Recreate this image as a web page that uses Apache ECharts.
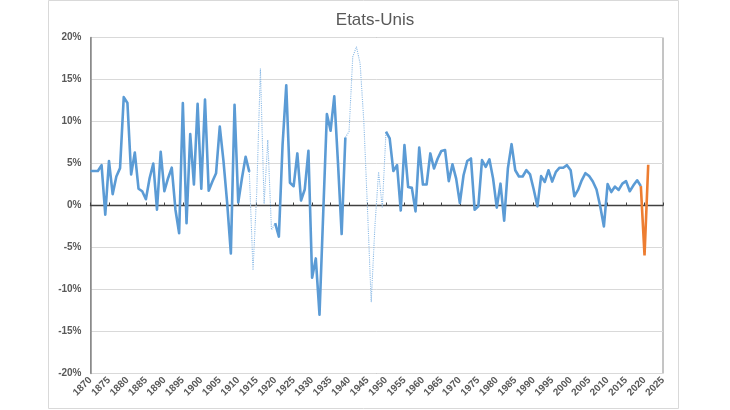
<!DOCTYPE html>
<html>
<head>
<meta charset="utf-8">
<script src="https://cdn.jsdelivr.net/npm/echarts@6/dist/echarts.min.js"></script>
<style>
html,body{margin:0;padding:0;background:#fff;}
#chart{width:730px;height:410px;}
</style>
</head>
<body>
<div id="chart"></div>
<script>
// Categories: years
const firstYear = 1870;
const lastYear = 2021;
const years = [];
for (let y = firstYear; y <= lastYear; y++) years.push(y);

// Solid series (real GDP growth, %), null = not shown in solid line
const solidValues = [
  4.1, 4.1, 4.1, 4.8, -1.1, 5.3, 1.35, 3.45, 4.45, 12.9,        // 1870-1879
  12.2, 3.7, 6.3, 2.0, 1.7, 0.75, 3.25, 5.0, -0.5, 6.4,          // 1880-1889
  1.7, 3.25, 4.5, -0.5, -3.3, 12.2, -2.1, 8.5, 2.5, 12.1,        // 1890-1899
  2.0, 12.6, 1.75, 2.85, 3.85, 9.4, 5.3, 0.3, -5.7, 12.0,        // 1900-1909
  0.35, 3.25, 5.8, 4.0, null, null, null, null, null, null,      // 1910-1919
  -2.1, -3.7, 7.2, 14.3, 2.7, 2.3, 6.2, 0.6, 1.9, 6.5,           // 1920-1929
  -8.6, -6.3, -13.0, -1.0, 10.9, 8.9, 13.0, 5.1, -3.4, 8.1,      // 1930-1939
  null, null, null, null, null, null, null, null, null, null,    // 1940-1949
  8.8, 8.0, 4.1, 4.8, -0.6, 7.2, 2.2, 2.1, -0.7, 6.9,            // 1950-1959
  2.5, 2.5, 6.2, 4.4, 5.6, 6.5, 6.6, 2.9, 4.9, 3.2,              // 1960-1969
  0.3, 3.6, 5.3, 5.6, -0.5, -0.1, 5.4, 4.6, 5.5, 3.2,            // 1970-1979
  -0.25, 2.6, -1.8, 4.4, 7.3, 4.2, 3.45, 3.45, 4.2, 3.7,         // 1980-1989
  1.9, -0.1, 3.5, 2.8, 4.2, 2.85, 4.0, 4.5, 4.5, 4.8,            // 1990-1999
  4.2, 1.1, 1.85, 3.0, 3.85, 3.5, 2.85, 1.9, -0.1, -2.5,         // 2000-2009
  2.55, 1.6, 2.25, 1.85, 2.6, 2.9, 1.7, 2.4, 3.0, 2.3,           // 2010-2019
  null, null                                                     // 2020-2021
];

// Dotted series (war periods)
const dottedYears1 = [1913, 1914, 1915, 1916, 1917, 1918, 1919, 1920];
const dottedValues1 = [4.0, -7.7, 1.5, 16.3, 0.2, 7.8, -2.9, -2.1];
const dottedYears2 = [1939, 1940, 1941, 1942, 1943, 1944, 1945, 1946, 1947, 1948, 1949, 1950];
const dottedValues2 = [8.1, 8.8, 17.7, 18.9, 16.9, 10.0, -0.5, -11.5, -2.5, 4.0, -0.3, 8.8];

// Orange series (recent / projection)
const orangeYears = [2019, 2020, 2021];
const orangeValues = [2.3, -5.95, 4.85];

// Axis ticks
const yTicks = [-20, -15, -10, -5, 0, 5, 10, 15, 20];
const xMin = 1870, xMax = 2025, xStep = 5;

function pairs(xs, vs) { return xs.map((x, i) => [x, vs[i]]); }

const solidData = pairs(years, solidValues);
const dottedData = pairs(dottedYears1, dottedValues1)
  .concat([[1930, null]])
  .concat(pairs(dottedYears2, dottedValues2));
const orangeData = pairs(orangeYears, orangeValues);

const FONT = '"Liberation Sans", Arial, sans-serif';
const chart = echarts.init(document.getElementById('chart'), null, {renderer: 'canvas'});
chart.setOption({
  animation: false,
  backgroundColor: '#ffffff',
  title: {
    text: 'Etats-Unis',
    left: 370, top: 7, textAlign: 'center',
    textStyle: {fontFamily: FONT, fontSize: 17, fontWeight: 'normal', color: '#595959'}
  },
  graphic: [{
    type: 'rect', shape: {x: 48.5, y: 0.5, width: 630, height: 408},
    style: {fill: 'none', stroke: '#d9d9d9', lineWidth: 1}, silent: true, z: -1
  }],
  grid: {
    left: 90.5, right: 67, top: 37.5, bottom: 36.5,
    show: true, borderColor: '#8a8a8a', borderWidth: 1, backgroundColor: 'transparent'
  },
  xAxis: [{
    type: 'value', min: xMin, max: xMax, interval: xStep, position: 'bottom',
    axisLine: {show: false, onZero: false}, axisTick: {show: false}, splitLine: {show: false},
    axisLabel: {rotate: 45, margin: 5, fontFamily: FONT, fontSize: 10, fontWeight: 'bold', color: '#595959',
      formatter: v => String(v)}
  }, {
    type: 'value', min: xMin, max: xMax, interval: xStep, position: 'top',
    axisLine: {show: true, onZero: true, lineStyle: {color: '#404040', width: 1.3}},
    axisTick: {show: true, inside: false, length: 3, lineStyle: {color: '#404040'}},
    axisLabel: {show: false}, splitLine: {show: false}
  }],
  yAxis: {
    type: 'value', min: yTicks[0], max: yTicks[yTicks.length - 1], interval: 5,
    axisLine: {show: true, onZero: false, lineStyle: {color: '#8a8a8a', width: 1.5}},
    axisTick: {show: false},
    splitLine: {show: true, lineStyle: {color: '#d9d9d9', width: 1}},
    axisLabel: {margin: 9, fontFamily: FONT, fontSize: 10, fontWeight: 'bold', color: '#595959',
      formatter: v => v + '%'}
  },
  series: [{
    type: 'line', xAxisIndex: 0, data: dottedData, showSymbol: false, connectNulls: false,
    lineStyle: {color: '#8dbbe6', width: 1.1, type: 'dotted'}, z: 2
  }, {
    type: 'line', xAxisIndex: 0, data: solidData, showSymbol: false, connectNulls: false,
    lineStyle: {color: '#5b9bd5', width: 2.6, join: 'round'}, z: 3
  }, {
    type: 'line', xAxisIndex: 0, data: orangeData, showSymbol: false,
    lineStyle: {color: '#ed7d31', width: 2.6}, z: 4
  }]
});
</script>
</body>
</html>
